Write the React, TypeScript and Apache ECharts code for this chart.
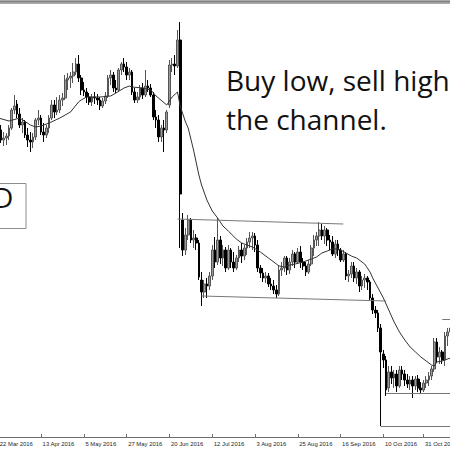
import React, { useEffect, useRef } from "react";
import * as echarts from "echarts";

const MONTHS = ["Jan", "Feb", "Mar", "Apr", "May", "Jun", "Jul", "Aug", "Sep", "Oct", "Nov", "Dec"];

// Daily sessions (Mon–Fri) from 21 Mar to 14 Nov 2016
function sessionDates(): string[] {
  const out: string[] = [];
  const d = new Date(Date.UTC(2016, 2, 21));
  const end = Date.UTC(2016, 10, 14);
  while (d.getTime() <= end) {
    const wd = d.getUTCDay();
    if (wd !== 0 && wd !== 6) out.push(`${d.getUTCDate()} ${MONTHS[d.getUTCMonth()]} 2016`);
    d.setUTCDate(d.getUTCDate() + 1);
  }
  return out;
}
const dates = sessionDates();

const tickDates = [
  "22 Mar 2016", "13 Apr 2016", "5 May 2016", "27 May 2016", "20 Jun 2016", "12 Jul 2016",
  "3 Aug 2016", "25 Aug 2016", "16 Sep 2016", "10 Oct 2016", "31 Oct 2016",
];

const opens = [
  1.4224, 1.4240, 1.4160, 1.4080, 1.4096, 1.4112, 1.4176, 1.4320, 1.4368, 1.4288,
  1.4200, 1.4224, 1.4120, 1.4080, 1.4064, 1.4104, 1.4240, 1.4256, 1.4144, 1.4120,
  1.4176, 1.4256, 1.4360, 1.4304, 1.4320, 1.4400, 1.4416, 1.4560, 1.4576, 1.4592,
  1.4624, 1.4688, 1.4576, 1.4480, 1.4464, 1.4424, 1.4384, 1.4424, 1.4416, 1.4400,
  1.4352, 1.4392, 1.4432, 1.4576, 1.4600, 1.4496, 1.4480, 1.4640, 1.4688, 1.4664,
  1.4600, 1.4624, 1.4464, 1.4400, 1.4424, 1.4496, 1.4440, 1.4512, 1.4496, 1.4440,
  1.4264, 1.4240, 1.4104, 1.4176, 1.4160, 1.4360, 1.4680, 1.4688, 1.4672, 1.4880,
  1.3440, 1.3200, 1.3320, 1.3440, 1.3280, 1.3296, 1.3256, 1.2960, 1.2864, 1.2928,
  1.2912, 1.2992, 1.3200, 1.3104, 1.3280, 1.3136, 1.3200, 1.3056, 1.3200, 1.3104,
  1.3056, 1.3136, 1.3200, 1.3152, 1.3216, 1.3264, 1.3296, 1.3312, 1.3240, 1.3056,
  1.3016, 1.2976, 1.2992, 1.2928, 1.2912, 1.2880, 1.2848, 1.3040, 1.3056, 1.3136,
  1.3040, 1.3104, 1.3168, 1.3104, 1.3184, 1.3104, 1.3072, 1.3024, 1.3088, 1.3216,
  1.3280, 1.3312, 1.3360, 1.3312, 1.3360, 1.3280, 1.3264, 1.3168, 1.3248, 1.3200,
  1.3120, 1.3168, 1.2992, 1.3008, 1.3072, 1.2976, 1.3024, 1.2912, 1.2960, 1.2976,
  1.2944, 1.2816, 1.2720, 1.2696, 1.2576, 1.2368, 1.2320, 1.2096, 1.2224, 1.2176,
  1.2208, 1.2112, 1.2240, 1.2208, 1.2160, 1.2128, 1.2160, 1.2112, 1.2168, 1.2096,
  1.2080, 1.2136, 1.2160, 1.2192, 1.2248, 1.2464, 1.2344, 1.2384, 1.2320, 1.2512, 1.2544,
];

const highs = [
  1.4280, 1.4264, 1.4200, 1.4144, 1.4136, 1.4200, 1.4336, 1.4440, 1.4400, 1.4336,
  1.4256, 1.4240, 1.4176, 1.4144, 1.4136, 1.4256, 1.4320, 1.4280, 1.4216, 1.4200,
  1.4280, 1.4400, 1.4400, 1.4424, 1.4440, 1.4456, 1.4600, 1.4616, 1.4624, 1.4696,
  1.4736, 1.4760, 1.4600, 1.4544, 1.4496, 1.4456, 1.4448, 1.4464, 1.4448, 1.4424,
  1.4416, 1.4464, 1.4600, 1.4640, 1.4624, 1.4560, 1.4656, 1.4704, 1.4736, 1.4704,
  1.4656, 1.4640, 1.4496, 1.4464, 1.4520, 1.4536, 1.4640, 1.4560, 1.4528, 1.4464,
  1.4320, 1.4280, 1.4200, 1.4240, 1.4320, 1.4720, 1.4736, 1.4760, 1.4960, 1.5024,
  1.3496, 1.3376, 1.3480, 1.3456, 1.3360, 1.3328, 1.3280, 1.3024, 1.2960, 1.2976,
  1.3024, 1.3240, 1.3304, 1.3456, 1.3312, 1.3240, 1.3224, 1.3240, 1.3216, 1.3184,
  1.3160, 1.3232, 1.3256, 1.3240, 1.3296, 1.3344, 1.3344, 1.3336, 1.3280, 1.3080,
  1.3056, 1.3024, 1.3016, 1.2976, 1.2960, 1.2920, 1.3072, 1.3104, 1.3152, 1.3152,
  1.3136, 1.3200, 1.3184, 1.3216, 1.3232, 1.3136, 1.3104, 1.3120, 1.3240, 1.3320,
  1.3344, 1.3424, 1.3408, 1.3392, 1.3376, 1.3320, 1.3312, 1.3280, 1.3280, 1.3216,
  1.3200, 1.3184, 1.3040, 1.3104, 1.3104, 1.3056, 1.3040, 1.2992, 1.3008, 1.2992,
  1.2960, 1.2848, 1.2752, 1.2720, 1.2608, 1.2400, 1.2352, 1.2272, 1.2272, 1.2240,
  1.2240, 1.2272, 1.2272, 1.2240, 1.2208, 1.2192, 1.2192, 1.2192, 1.2200, 1.2144,
  1.2160, 1.2192, 1.2224, 1.2272, 1.2496, 1.2496, 1.2424, 1.2400, 1.2544, 1.2576, 1.2600,
];

const lows = [
  1.4160, 1.4120, 1.4056, 1.4032, 1.4040, 1.4080, 1.4160, 1.4288, 1.4256, 1.4176,
  1.4136, 1.4096, 1.4024, 1.3984, 1.4016, 1.4080, 1.4200, 1.4120, 1.4064, 1.4096,
  1.4136, 1.4240, 1.4256, 1.4280, 1.4296, 1.4352, 1.4400, 1.4480, 1.4496, 1.4536,
  1.4600, 1.4544, 1.4440, 1.4432, 1.4376, 1.4360, 1.4352, 1.4368, 1.4360, 1.4320,
  1.4336, 1.4368, 1.4416, 1.4520, 1.4464, 1.4456, 1.4464, 1.4600, 1.4624, 1.4560,
  1.4560, 1.4440, 1.4376, 1.4376, 1.4400, 1.4408, 1.4424, 1.4464, 1.4424, 1.4240,
  1.4176, 1.4064, 1.4064, 1.3984, 1.4136, 1.4336, 1.4624, 1.4600, 1.4656, 1.3216,
  1.3152, 1.3160, 1.3280, 1.3256, 1.3216, 1.3200, 1.2960, 1.2752, 1.2816, 1.2816,
  1.2880, 1.2960, 1.3056, 1.3080, 1.3088, 1.3072, 1.3024, 1.3040, 1.3056, 1.3024,
  1.3040, 1.3104, 1.3096, 1.3120, 1.3160, 1.3216, 1.3200, 1.3184, 1.3024, 1.2976,
  1.2944, 1.2936, 1.2904, 1.2880, 1.2848, 1.2816, 1.2832, 1.2992, 1.3024, 1.3000,
  1.3008, 1.3072, 1.3056, 1.3088, 1.3056, 1.3040, 1.2992, 1.3008, 1.3072, 1.3152,
  1.3232, 1.3232, 1.3280, 1.3248, 1.3232, 1.3200, 1.3152, 1.3136, 1.3152, 1.3104,
  1.3104, 1.2960, 1.2944, 1.2976, 1.2944, 1.2928, 1.2864, 1.2880, 1.2896, 1.2880,
  1.2800, 1.2688, 1.2656, 1.2544, 1.1792, 1.2256, 1.2032, 1.2064, 1.2128, 1.2096,
  1.2064, 1.2096, 1.2160, 1.2112, 1.2096, 1.2080, 1.2016, 1.2080, 1.2064, 1.2048,
  1.2064, 1.2096, 1.2112, 1.2160, 1.2224, 1.2304, 1.2288, 1.2288, 1.2272, 1.2432, 1.2480,
];

const closes = [
  1.4240, 1.4160, 1.4080, 1.4096, 1.4112, 1.4176, 1.4320, 1.4352, 1.4288, 1.4200,
  1.4224, 1.4120, 1.4080, 1.4064, 1.4104, 1.4240, 1.4256, 1.4144, 1.4120, 1.4176,
  1.4256, 1.4360, 1.4304, 1.4320, 1.4400, 1.4416, 1.4560, 1.4576, 1.4592, 1.4624,
  1.4688, 1.4576, 1.4480, 1.4464, 1.4424, 1.4384, 1.4424, 1.4416, 1.4400, 1.4352,
  1.4392, 1.4432, 1.4576, 1.4600, 1.4496, 1.4480, 1.4640, 1.4688, 1.4664, 1.4600,
  1.4624, 1.4464, 1.4400, 1.4424, 1.4496, 1.4440, 1.4512, 1.4496, 1.4440, 1.4264,
  1.4240, 1.4104, 1.4176, 1.4160, 1.4304, 1.4680, 1.4688, 1.4672, 1.4880, 1.3648,
  1.3200, 1.3320, 1.3440, 1.3280, 1.3296, 1.3256, 1.2984, 1.2864, 1.2928, 1.2912,
  1.2992, 1.3200, 1.3104, 1.3280, 1.3136, 1.3200, 1.3056, 1.3200, 1.3104, 1.3056,
  1.3136, 1.3200, 1.3152, 1.3216, 1.3264, 1.3296, 1.3312, 1.3240, 1.3056, 1.3016,
  1.2976, 1.2992, 1.2928, 1.2912, 1.2880, 1.2848, 1.3040, 1.3056, 1.3136, 1.3040,
  1.3104, 1.3168, 1.3104, 1.3184, 1.3104, 1.3072, 1.3024, 1.3088, 1.3216, 1.3280,
  1.3312, 1.3360, 1.3312, 1.3360, 1.3280, 1.3264, 1.3168, 1.3248, 1.3200, 1.3120,
  1.3168, 1.2992, 1.3008, 1.3072, 1.2976, 1.3024, 1.2912, 1.2960, 1.2976, 1.2944,
  1.2816, 1.2720, 1.2696, 1.2576, 1.2384, 1.2320, 1.2080, 1.2224, 1.2176, 1.2208,
  1.2112, 1.2240, 1.2208, 1.2160, 1.2128, 1.2160, 1.2112, 1.2168, 1.2096, 1.2080,
  1.2136, 1.2160, 1.2192, 1.2248, 1.2464, 1.2344, 1.2384, 1.2320, 1.2512, 1.2544, 1.2576,
];

// Moving average, sampled along its path
const maDates = [
  "22 Mar 2016", "28 Mar 2016", "1 Apr 2016", "7 Apr 2016", "11 Apr 2016", "13 Apr 2016",
  "18 Apr 2016", "22 Apr 2016", "28 Apr 2016", "3 May 2016", "4 May 2016", "6 May 2016",
  "13 May 2016", "19 May 2016", "23 May 2016", "26 May 2016", "30 May 2016", "31 May 2016",
  "6 Jun 2016", "9 Jun 2016", "13 Jun 2016", "17 Jun 2016", "21 Jun 2016", "23 Jun 2016",
  "24 Jun 2016", "28 Jun 2016", "29 Jun 2016", "1 Jul 2016", "5 Jul 2016", "6 Jul 2016",
  "8 Jul 2016", "12 Jul 2016", "14 Jul 2016", "18 Jul 2016", "20 Jul 2016", "25 Jul 2016",
  "27 Jul 2016", "2 Aug 2016", "5 Aug 2016", "10 Aug 2016", "15 Aug 2016", "16 Aug 2016",
  "18 Aug 2016", "22 Aug 2016", "24 Aug 2016", "29 Aug 2016", "1 Sep 2016", "5 Sep 2016",
  "7 Sep 2016", "9 Sep 2016", "13 Sep 2016", "15 Sep 2016", "16 Sep 2016", "20 Sep 2016",
  "22 Sep 2016", "26 Sep 2016", "29 Sep 2016", "3 Oct 2016", "4 Oct 2016", "6 Oct 2016",
  "10 Oct 2016", "12 Oct 2016", "14 Oct 2016", "18 Oct 2016", "20 Oct 2016", "24 Oct 2016",
  "26 Oct 2016", "28 Oct 2016", "1 Nov 2016", "3 Nov 2016", "4 Nov 2016", "7 Nov 2016",
  "9 Nov 2016", "14 Nov 2016",
];
const maValues = [
  1.4256, 1.4232, 1.4256, 1.4200, 1.4184, 1.4192,
  1.4216, 1.4256, 1.4304, 1.4384, 1.4400, 1.4424,
  1.4424, 1.4432, 1.4456, 1.4496, 1.4512, 1.4504,
  1.4496, 1.4480, 1.4432, 1.4360, 1.4424, 1.4464,
  1.4352, 1.4224, 1.4176, 1.4000, 1.3800, 1.3720,
  1.3600, 1.3512, 1.3456, 1.3392, 1.3352, 1.3288,
  1.3256, 1.3224, 1.3184, 1.3136, 1.3088, 1.3072,
  1.3064, 1.3080, 1.3088, 1.3104, 1.3128, 1.3144,
  1.3176, 1.3192, 1.3208, 1.3208, 1.3200, 1.3176,
  1.3152, 1.3136, 1.3088, 1.3024, 1.2976, 1.2896,
  1.2816, 1.2720, 1.2624, 1.2544, 1.2480, 1.2424,
  1.2384, 1.2344, 1.2312, 1.2280, 1.2272, 1.2304,
  1.2312, 1.2336,
];

// Hand-drawn trend lines: [from, to] as [date, price]
const trendLines: [string, number][][] = [
  [["23 Jun 2016", 1.3448], ["19 Sep 2016", 1.3408]],
  [["6 Jul 2016", 1.2832], ["11 Oct 2016", 1.2792]],
  [["11 Oct 2016", 1.2056], ["14 Nov 2016", 1.2056]],
  [["7 Oct 2016", 1.1792], ["14 Nov 2016", 1.1792]],
  [["9 Nov 2016", 1.2648], ["14 Nov 2016", 1.2648]],
];

const SHIFT = 20; // the canvas starts 20px left of the visible frame
const FONT = "'Open Sans', 'Noto Sans', sans-serif";

export default function App() {
  const ref = useRef<HTMLDivElement>(null);

  useEffect(() => {
    if (!ref.current) return;
    const chart = echarts.init(ref.current, undefined, { renderer: "svg" });
    const candles = dates.map((_, i) => [opens[i], closes[i], lows[i], highs[i]]);
    const showTick = (_: number, value: string) => tickDates.includes(value);

    chart.setOption({
      animation: false,
      backgroundColor: "#ffffff",
      grid: { left: 14.3, top: 4, width: 457.3, height: 433 },
      xAxis: {
        type: "category",
        data: dates,
        boundaryGap: true,
        axisLine: { lineStyle: { color: "#6e6e6e", width: 1 } },
        axisTick: { show: true, inside: true, length: 3, alignWithLabel: true, interval: showTick, lineStyle: { color: "#6e6e6e" } },
        axisLabel: {
          interval: showTick,
          align: "left",
          margin: 4,
          padding: [0, 0, 0, 1.5],
          color: "#262626",
          fontSize: 5.9,
          fontFamily: "'Liberation Sans', Arial, sans-serif",
        },
        splitLine: { show: false },
      },
      yAxis: { type: "value", min: 1.1704, max: 1.5168, show: false, splitLine: { show: false } },
      series: [
        {
          type: "candlestick",
          data: candles,
          barWidth: 2.2,
          itemStyle: {
            color: "#9a9a9a",
            color0: "#000000",
            borderColor: "#555555",
            borderColor0: "#000000",
            borderWidth: 1,
          },
          markLine: {
            silent: true,
            symbol: ["none", "none"],
            label: { show: false },
            lineStyle: { color: "#777777", width: 1, type: "solid" },
            data: trendLines.map(([a, b]) => [{ coord: a }, { coord: b }]),
          },
        },
        {
          type: "line",
          data: maDates.map((d, i) => [d, maValues[i]]),
          showSymbol: false,
          symbol: "none",
          lineStyle: { color: "#333333", width: 1 },
          z: 3,
        },
      ],
      graphic: [
        { type: "rect", shape: { x: 0, y: 0, width: 492, height: 4 }, style: { fill: "#a9a9a9" }, z: 10 },
        { type: "rect", shape: { x: 0, y: 1, width: 492, height: 1.3 }, style: { fill: "#808080" }, z: 11 },
        {
          type: "rect",
          shape: { x: SHIFT - 12, y: 183.5, width: 38, height: 45 },
          style: { fill: "#ffffff", stroke: "#8c8c8c", lineWidth: 1 },
          z: 10,
        },
        {
          type: "text",
          x: SHIFT - 7,
          y: 197.3,
          style: { text: "D", font: `28px ${FONT}`, fill: "#111111", verticalAlign: "middle", align: "left" },
          z: 11,
        },
        {
          type: "text",
          x: SHIFT + 226,
          y: 80.2,
          style: { text: "Buy low, sell high", font: `28px ${FONT}`, fill: "#111111", verticalAlign: "middle", align: "left" },
          z: 11,
        },
        {
          type: "text",
          x: SHIFT + 226,
          y: 119.2,
          style: { text: "the channel.", font: `28px ${FONT}`, fill: "#111111", verticalAlign: "middle", align: "left" },
          z: 11,
        },
      ],
    });

    return () => chart.dispose();
  }, []);

  return (
    <div style={{ position: "fixed", left: 0, top: 0, width: 450, height: 450, overflow: "hidden", background: "#fff" }}>
      <div ref={ref} style={{ position: "absolute", left: -SHIFT, top: 0, width: 492, height: 450 }} />
    </div>
  );
}
